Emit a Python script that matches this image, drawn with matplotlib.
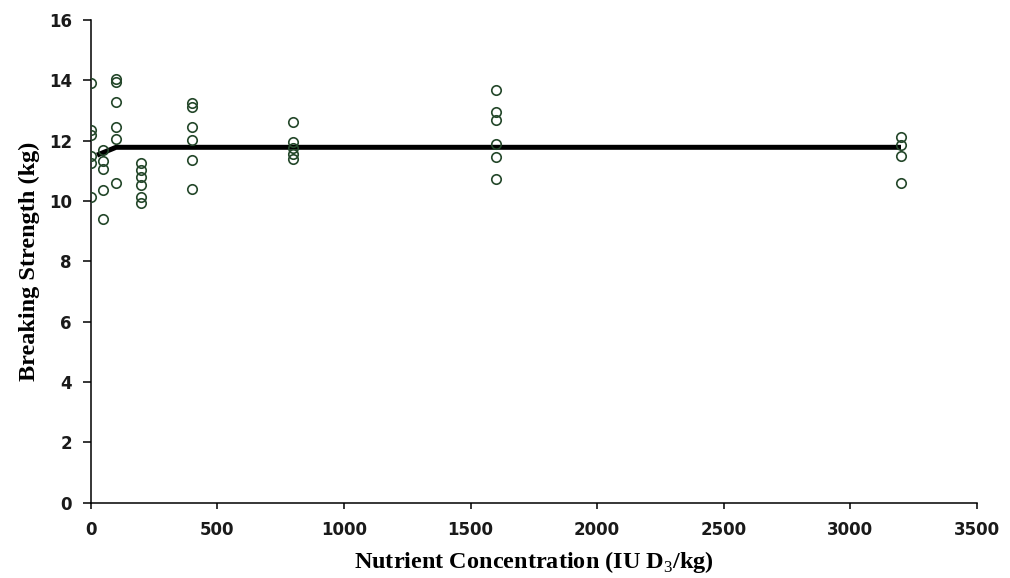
import numpy as np
import matplotlib
matplotlib.use("Agg")
import matplotlib.pyplot as plt

plt.rcParams["mathtext.fontset"] = "custom"
plt.rcParams["mathtext.rm"] = "Liberation Serif"
plt.rcParams["mathtext.bf"] = "Liberation Serif:bold"

# breaking strength readings (kg) per dietary D3 level (IU/kg)
dose_0 = [13.92, 12.35, 12.19, 11.49, 11.25, 10.12]
dose_50 = [11.68, 11.34, 11.06, 10.36, 9.40]
dose_100 = [14.05, 13.95, 13.29, 12.45, 12.05, 10.59]
dose_200 = [11.27, 11.03, 10.79, 10.53, 10.14, 9.92]
dose_400 = [13.24, 13.12, 12.46, 12.03, 11.36, 10.40]
dose_800 = [12.62, 11.97, 11.75, 11.55, 11.40]
dose_1600 = [13.68, 12.96, 12.68, 11.89, 11.45, 10.73]
dose_3200 = [12.11, 11.86, 11.50, 10.61]

levels = [0, 50, 100, 200, 400, 800, 1600, 3200]
groups = [dose_0, dose_50, dose_100, dose_200, dose_400, dose_800, dose_1600, dose_3200]

# broken-line fit
fit_x = [25, 100, 3200]
fit_y = [11.52, 11.78, 11.78]

xs = np.concatenate([[lv] * len(g) for lv, g in zip(levels, groups)])
ys = np.concatenate(groups)

fig = plt.figure(figsize=(10.10, 5.78), dpi=100)
ax = fig.add_axes([0.0898, 0.1303, 0.8775, 0.8351])

ax.plot(fit_x, fit_y, color="black", lw=3.6, solid_capstyle="butt", zorder=2)
ax.plot(xs, ys, linestyle="none", marker="o", markersize=6.8,
        markerfacecolor="none", markeredgecolor="#24472a",
        markeredgewidth=1.2, zorder=3)

ax.set_xlim(0, 3500)
ax.set_ylim(0, 16)
ax.set_xticks(np.arange(0, 3501, 500))
ax.set_yticks(np.arange(0, 17, 2))

for side in ("top", "right"):
    ax.spines[side].set_visible(False)
for side in ("left", "bottom"):
    ax.spines[side].set_linewidth(1.1)
    ax.spines[side].set_color("black")

ax.tick_params(axis="x", direction="out", length=4.5, width=1.1, pad=9)
ax.tick_params(axis="y", direction="out", length=6, width=1.1, pad=7.5)
for lab in ax.get_xticklabels() + ax.get_yticklabels():
    lab.set_fontfamily("DejaVu Sans")
    lab.set_fontweight("bold")
    lab.set_fontsize(12)
    lab.set_color("#1a1a1a")

label_font = dict(family="Liberation Serif", weight="bold", size=17.5)
ax.set_xlabel(r"Nutrient Concentration (IU D$_\mathrm{3}$/kg)", labelpad=7, **label_font)
ax.set_ylabel("Breaking Strength (kg)", labelpad=6, **label_font)

fig.savefig("out.png", dpi=100)
